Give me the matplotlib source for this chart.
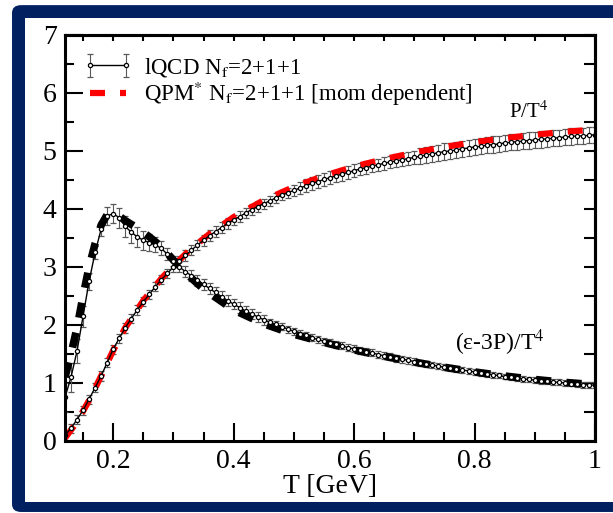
import numpy as np
import matplotlib
matplotlib.use('Agg')
import matplotlib.pyplot as plt
from matplotlib.patches import FancyBboxPatch, Rectangle
from matplotlib.ticker import MultipleLocator, FuncFormatter, NullFormatter

plt.rcParams['font.family'] = 'serif'
plt.rcParams['font.serif'] = ['Liberation Serif', 'DejaVu Serif']
plt.rcParams['mathtext.fontset'] = 'stix'

# lattice QCD temperature grid [GeV]
T_lqcd = np.round(np.arange(0.12, 1.0001, 0.01), 2)

# pressure P/T^4 (lQCD)
P_lqcd = [0.10, 0.22, 0.37, 0.53, 0.72, 0.92, 1.12, 1.35, 1.58, 1.77,
          1.95, 2.11, 2.26, 2.40, 2.53, 2.66, 2.78, 2.89, 3.00, 3.10,
          3.20, 3.29, 3.38, 3.46, 3.54, 3.61, 3.68, 3.75, 3.81, 3.87,
          3.93, 3.99, 4.04, 4.09, 4.14, 4.19, 4.24, 4.28, 4.32, 4.36,
          4.40, 4.44, 4.47, 4.51, 4.54, 4.57, 4.60, 4.63, 4.66, 4.69,
          4.71, 4.74, 4.76, 4.79, 4.81, 4.83, 4.85, 4.87, 4.89, 4.91,
          4.93, 4.95, 4.97, 4.99, 5.00, 5.02, 5.04, 5.05, 5.07, 5.08,
          5.10, 5.11, 5.12, 5.14, 5.15, 5.16, 5.17, 5.18, 5.19, 5.20,
          5.21, 5.22, 5.23, 5.24, 5.25, 5.26, 5.26, 5.27, 5.28]
P_err = [0.08] * 19 + [0.09] * 20 + [0.11] * 20 + [0.14] * 30

# trace anomaly (e-3P)/T^4 (lQCD)
I_lqcd = [0.75, 1.10, 1.55, 2.15, 2.75, 3.25, 3.65, 3.88, 3.92, 3.85,
          3.70, 3.60, 3.52, 3.46, 3.42, 3.38, 3.32, 3.22, 3.10, 3.00,
          2.92, 2.85, 2.77, 2.70, 2.63, 2.56, 2.49, 2.42, 2.36, 2.30,
          2.24, 2.19, 2.14, 2.09, 2.05, 2.01, 1.97, 1.93, 1.89, 1.85,
          1.82, 1.78, 1.75, 1.72, 1.69, 1.67, 1.64, 1.61, 1.59, 1.56,
          1.54, 1.52, 1.49, 1.47, 1.45, 1.43, 1.41, 1.39, 1.37, 1.35,
          1.33, 1.31, 1.29, 1.27, 1.26, 1.24, 1.22, 1.21, 1.19, 1.17,
          1.16, 1.14, 1.13, 1.11, 1.10, 1.09, 1.07, 1.06, 1.05, 1.04,
          1.03, 1.02, 1.01, 1.00, 0.99, 0.98, 0.97, 0.97, 0.96]
I_err = ([0.25, 0.25, 0.20, 0.18, 0.15, 0.12, 0.12, 0.15, 0.16, 0.17,
          0.18, 0.18, 0.17, 0.16, 0.15, 0.13, 0.12, 0.10]
         + [0.09] * 16 + [0.06] * 25 + [0.05] * 30)

# QPM* momentum dependent
T_qpm_p = [0.12, 0.14, 0.16, 0.18, 0.20, 0.22, 0.25, 0.28, 0.30, 0.33,
           0.36, 0.40, 0.45, 0.50, 0.55, 0.60, 0.65, 0.70, 0.75, 0.80,
           0.85, 0.90, 0.95, 1.00]
P_qpm = [0.05, 0.33, 0.70, 1.12, 1.56, 1.95, 2.42, 2.80, 3.02, 3.32,
         3.57, 3.86, 4.15, 4.38, 4.57, 4.73, 4.86, 4.97, 5.07, 5.15,
         5.22, 5.28, 5.33, 5.37]
T_qpm_i = [0.12, 0.13, 0.14, 0.15, 0.16, 0.17, 0.18, 0.19, 0.20, 0.21,
           0.22, 0.24, 0.26, 0.28, 0.30, 0.32, 0.35, 0.40, 0.45, 0.50,
           0.55, 0.60, 0.65, 0.70, 0.75, 0.80, 0.85, 0.90, 0.95, 1.00]
I_qpm = [1.10, 1.50, 1.95, 2.50, 3.00, 3.40, 3.72, 3.90, 3.93, 3.88,
         3.80, 3.67, 3.52, 3.35, 3.12, 2.90, 2.62, 2.26, 2.02, 1.84,
         1.70, 1.57, 1.46, 1.36, 1.27, 1.19, 1.12, 1.06, 1.01, 0.97]

fig = plt.figure(figsize=(6.13, 5.13), dpi=100)

# navy slide frame
fig.patches.append(FancyBboxPatch((0.0196, 0.002), 1.2, 0.988,
                                  boxstyle='round,pad=0,rounding_size=0.015',
                                  transform=fig.transFigure, facecolor='#002060',
                                  edgecolor='none', zorder=-2))
fig.patches.append(Rectangle((0.0408, 0.0214), 1.2, 0.9435, transform=fig.transFigure,
                             facecolor='white', edgecolor='none', zorder=-1))

ax = fig.add_axes([0.106, 0.1404, 0.8646, 0.7914])
ax.set_facecolor('none')

eb_kw = dict(fmt='-o', color='black', ms=3, mfc='white', mew=0.9, lw=1.0,
             ecolor='0.35', elinewidth=0.8, capsize=2, capthick=0.8)
h_lqcd = ax.errorbar(T_lqcd, P_lqcd, yerr=P_err, **eb_kw)
ax.errorbar(T_lqcd, I_lqcd, yerr=I_err, **eb_kw)

h_qpm, = ax.plot(T_qpm_p, P_qpm, color='red', lw=4.5, ls=(0, (2.4, 2.4)),
                 dash_capstyle='butt')
ax.plot(T_qpm_i, I_qpm, color='black', lw=5.5, ls=(0, (2.0, 2.0)), dash_capstyle='butt')

ax.set_xlim(0.12, 1.0)
ax.set_ylim(0, 7)
ax.xaxis.set_major_locator(MultipleLocator(0.2))
ax.xaxis.set_minor_locator(MultipleLocator(0.05))
ax.yaxis.set_major_locator(MultipleLocator(1))
ax.yaxis.set_minor_locator(MultipleLocator(0.5))
ax.xaxis.set_major_formatter(FuncFormatter(lambda v, p: '%g' % v))
ax.yaxis.set_major_formatter(FuncFormatter(lambda v, p: '%g' % v))
ax.tick_params(which='both', direction='in', width=1.5, labelsize=20, pad=6)
ax.tick_params(which='major', length=13)
ax.tick_params(which='minor', length=6.5)
for s in ax.spines.values():
    s.set_linewidth(2.2)

secx = ax.secondary_xaxis('top')
secx.xaxis.set_major_locator(MultipleLocator(0.05))
secx.xaxis.set_major_formatter(NullFormatter())
secx.tick_params(direction='in', length=4, width=1.5)
secx.spines['top'].set_linewidth(2.2)
secy = ax.secondary_yaxis('right')
secy.yaxis.set_major_locator(MultipleLocator(0.5))
secy.yaxis.set_major_formatter(NullFormatter())
secy.tick_params(direction='in', length=8, width=1.5)
secy.spines['right'].set_linewidth(2.2)

ax.set_xlabel('T [GeV]', fontsize=20, labelpad=0)

ax.text(0.89, 5.67, r'P/T$^4$', fontsize=15, ha='center', va='center')
ax.text(0.842, 1.69, r'(ε-3P)/T$^4$', fontsize=17, ha='center', va='center')

ax.legend([h_lqcd, h_qpm],
          [r'lQCD N$_\mathrm{f}$=2+1+1', r'QPM$^{*}$ N$_\mathrm{f}$=2+1+1 [mom dependent]'],
          loc='upper left', bbox_to_anchor=(-0.005, 1.0), frameon=False, fontsize=16.5,
          handlelength=2.2, numpoints=2, labelspacing=0.05, handletextpad=0.45)

fig.savefig('out.png', dpi=100)
